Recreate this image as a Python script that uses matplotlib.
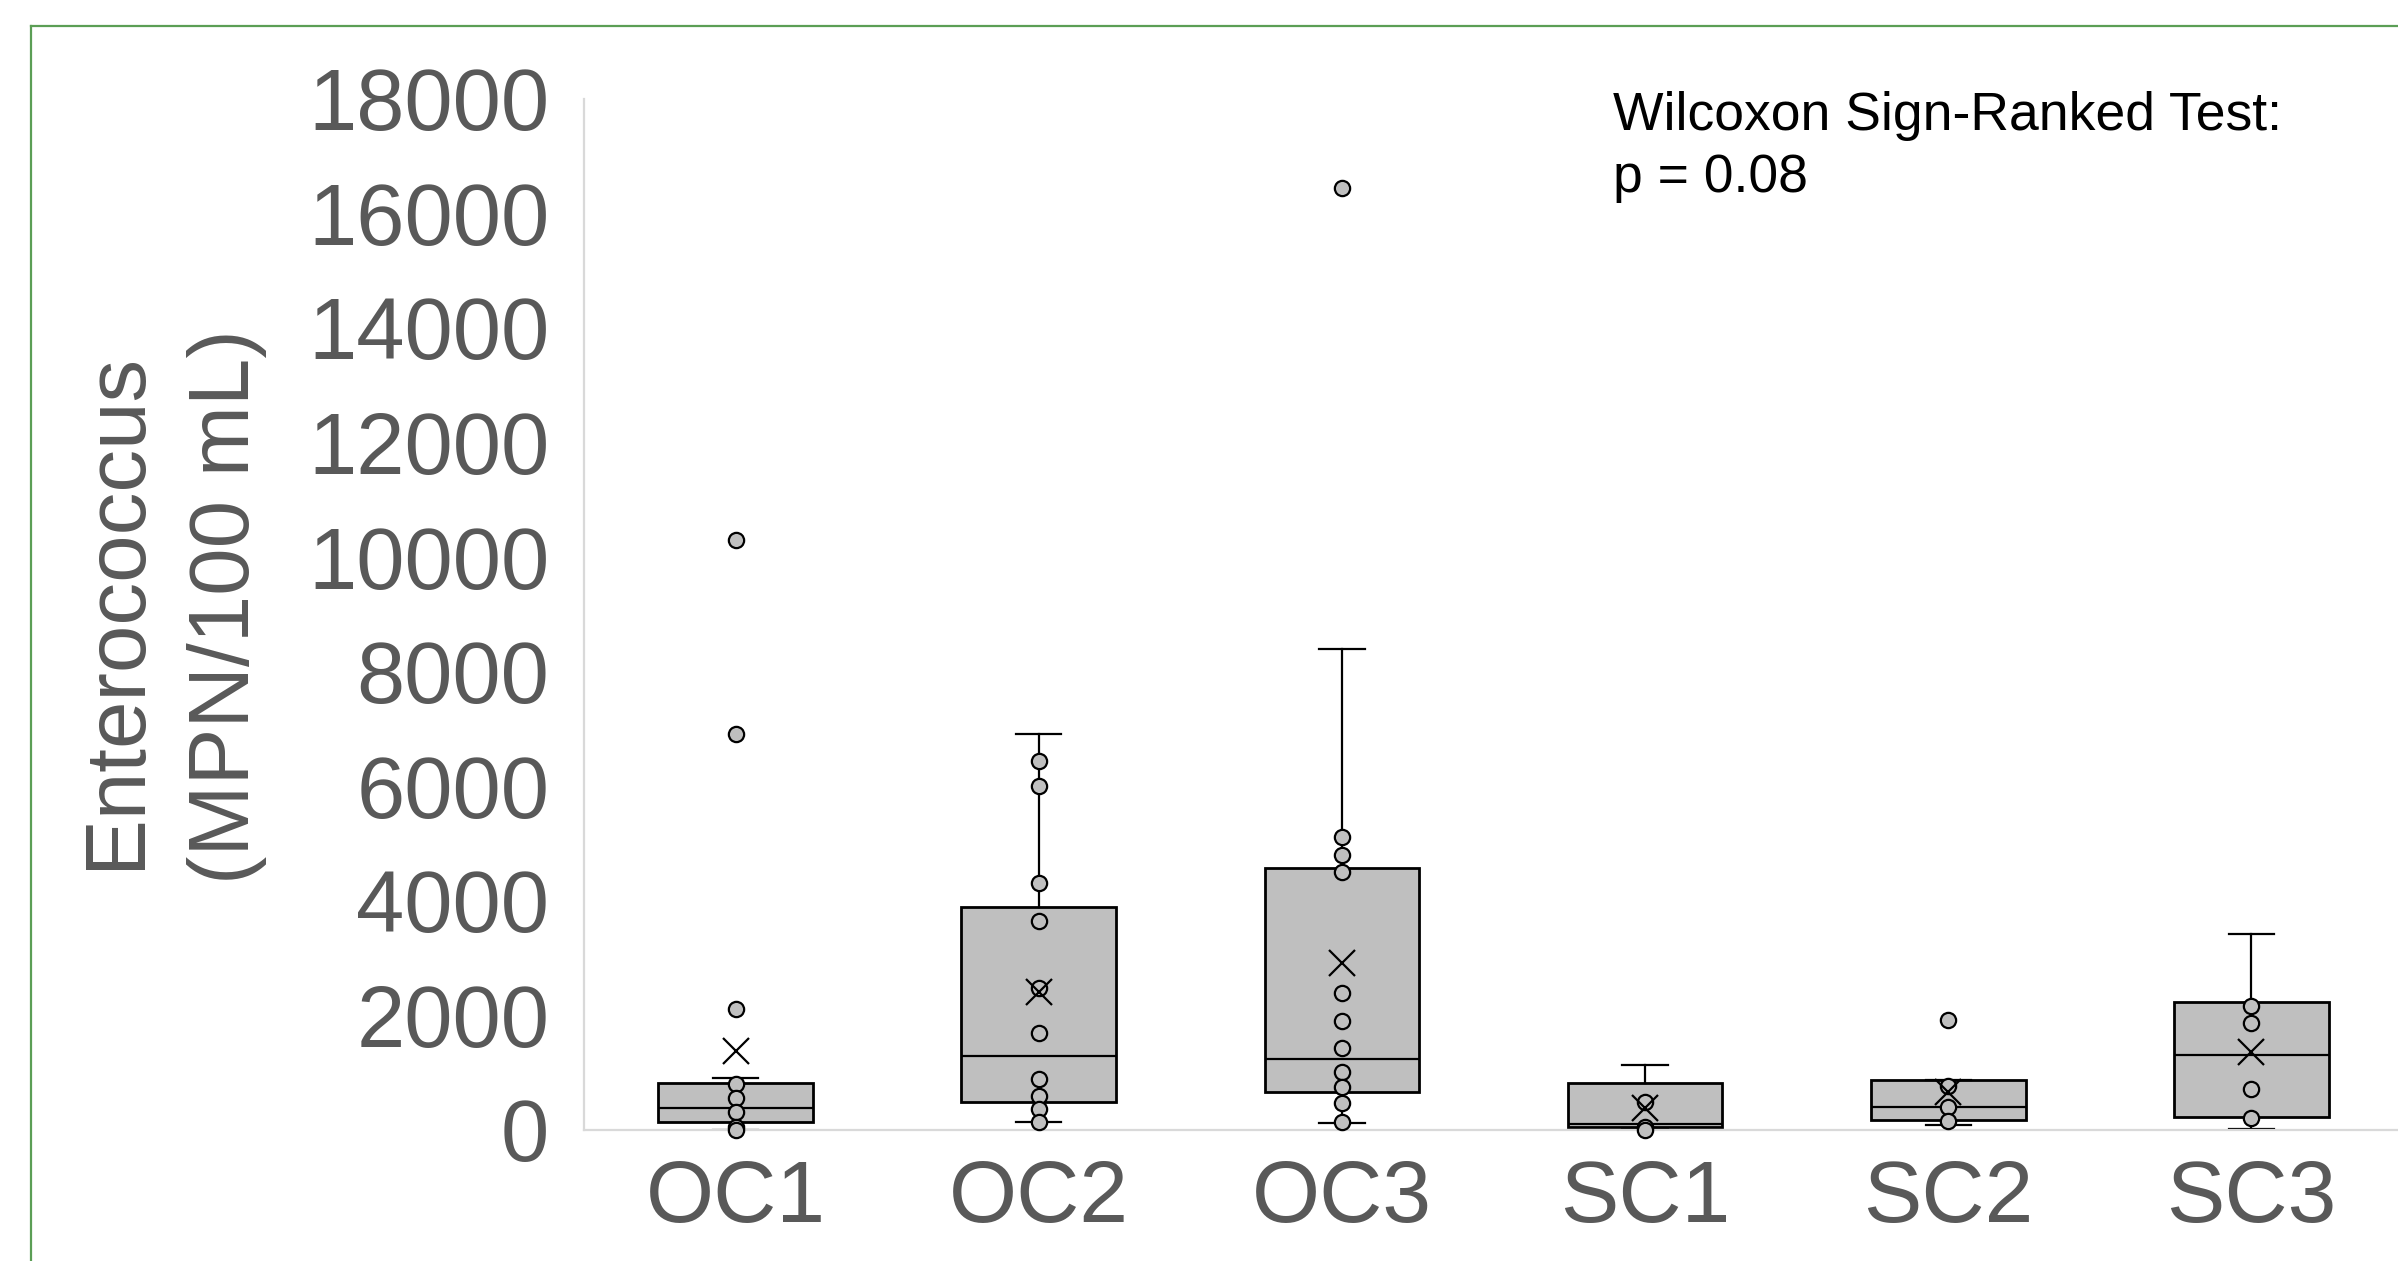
import matplotlib
matplotlib.use('Agg')
import matplotlib.pyplot as plt
from matplotlib.lines import Line2D

# ---- data ----
categories = ['OC1', 'OC2', 'OC3', 'SC1', 'SC2', 'SC3']
q1 = [145, 494, 669, 58, 175, 221]
median = [378, 1291, 1239, 105, 407, 1309]
q3 = [815, 3897, 4577, 815, 873, 2240]
whisker_low = [0, 145, 116, 10, 93, 23]
whisker_high = [913, 6910, 8393, 1129, 873, 3415]
means = [1379, 2413, 2920, 378, 669, 1355]

points_oc1 = [10300, 6920, 2106, 810, 553, 309, 58, 0]
points_oc2 = [6439, 6008, 4305, 3652, 2473, 1698, 885, 599, 372, 145]
points_oc3 = [16440, 5108, 4799, 4508, 2385, 1902, 1425, 1006, 756, 465, 145]
points_sc1 = [494, 58, 0]
points_sc2 = [1920, 768, 407, 163]
points_sc3 = [2164, 1873, 716, 204]
points = [points_oc1, points_oc2, points_oc3, points_sc1, points_sc2, points_sc3]

yticks = [0, 2000, 4000, 6000, 8000, 10000, 12000, 14000, 16000, 18000]
ylabel_line1 = 'Enterococcus'
ylabel_line2 = '(MPN/100 mL)'
annot_line1 = 'Wilcoxon Sign-Ranked Test:'
annot_line2 = 'p = 0.08'

# ---- figure ----
plt.rcParams['font.family'] = ['Liberation Sans', 'DejaVu Sans']
W, H = 2398, 1261
fig = plt.figure(figsize=(W / 100, H / 100), dpi=100)

ax_left = 584 / W
ax_bottom = 1 - 1130 / H
ax_top = 1 - 98.7 / H
ax_w = (2403 - 584) / W
ax = fig.add_axes([ax_left, ax_bottom, ax_w, ax_top - ax_bottom])

positions = list(range(1, len(categories) + 1))
stats = []
for i, c in enumerate(categories):
    stats.append(dict(label=c, q1=q1[i], med=median[i], q3=q3[i],
                      whislo=whisker_low[i], whishi=whisker_high[i], fliers=[]))

ax.bxp(stats, positions=positions, widths=0.51, capwidths=0.15,
       patch_artist=True, showfliers=False,
       boxprops=dict(facecolor='#BFBFBF', edgecolor='black', linewidth=2.0),
       medianprops=dict(color='black', linewidth=1.6),
       whiskerprops=dict(color='black', linewidth=1.6),
       capprops=dict(color='black', linewidth=1.6))

for pos, pts in zip(positions, points):
    ax.plot([pos] * len(pts), pts, linestyle='none', marker='o', ms=11,
            mfc='#BFBFBF', mec='black', mew=1.6, clip_on=False, zorder=4)

ax.plot(positions, means, linestyle='none', marker='x', ms=19,
        mec='black', mew=1.6, clip_on=False, zorder=5)

ax.set_xlim(0.5, 6.5)
ax.set_ylim(0, 18000)
ax.set_yticks(yticks)
ax.set_yticklabels([str(v) for v in yticks])
ax.set_xticks(positions)
ax.set_xticklabels(categories)
ax.tick_params(axis='both', length=0, labelcolor='#595959')
ax.tick_params(axis='y', pad=25, labelsize=62.5)
ax.tick_params(axis='x', pad=21, labelsize=63)
for s in ['top', 'right']:
    ax.spines[s].set_visible(False)
for s in ['left', 'bottom']:
    ax.spines[s].set_color('#D9D9D9')
    ax.spines[s].set_linewidth(1.6)
ax.patch.set_alpha(0)

# y-axis title (two lines)
fig.text(139 / W, 1 - 610 / H, ylabel_line1, rotation=90, rotation_mode='anchor',
         ha='center', va='baseline', fontsize=61.5, color='#595959')
fig.text(249 / W, 1 - 607 / H, ylabel_line2, rotation=90, rotation_mode='anchor',
         ha='center', va='baseline', fontsize=61.5, color='#595959')

# annotation
fig.text(1613 / W, 1 - 130 / H, annot_line1, ha='left', va='baseline',
         fontsize=38.5, color='black')
fig.text(1613 / W, 1 - 191.7 / H, annot_line2, ha='left', va='baseline',
         fontsize=38.5, color='black')

# green chart border (top and left visible)
border_color = '#5B9E55'
fig.add_artist(Line2D([31 / W, 31 / W], [0, 1 - 26 / H], transform=fig.transFigure,
                      color=border_color, lw=1.6))
fig.add_artist(Line2D([31 / W, 1], [1 - 26 / H, 1 - 26 / H], transform=fig.transFigure,
                      color=border_color, lw=1.6))

fig.savefig('out.png', dpi=100)
